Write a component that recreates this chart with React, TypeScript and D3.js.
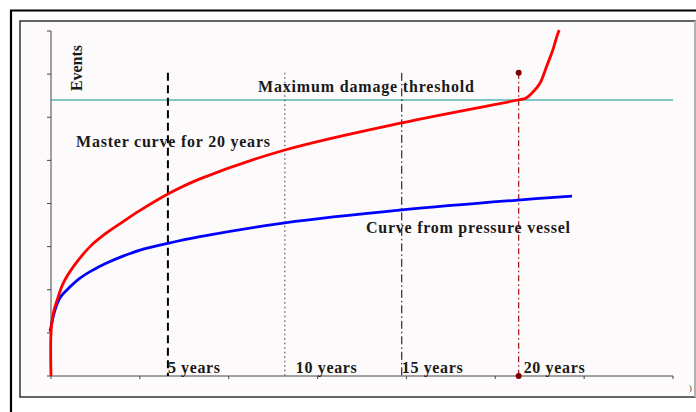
import React from 'react';
import * as d3 from 'd3';

// readings in (years, events) units
const masterCurve: [number, number][] = [
  [0, 0], [0, 1.0], [0.1, 1.46], [0.31, 1.84], [0.53, 2.16], [0.95, 2.53],
  [1.67, 3.0], [2.38, 3.32], [3.08, 3.58], [3.81, 3.84], [5, 4.22], [6.37, 4.57],
  [10, 5.24], [15, 5.87], [19.97, 6.4], [20.3, 6.44], [20.57, 6.56], [20.91, 6.79],
  [21.19, 7.17], [21.46, 7.56], [21.68, 7.95], [21.74, 8.02],
];
const vesselCurve: [number, number][] = [
  [-0.04, 1.03], [0.17, 1.53], [0.38, 1.81], [0.67, 1.99], [1.24, 2.27],
  [1.8, 2.46], [2.38, 2.62], [3.08, 2.78], [3.81, 2.92], [4.95, 3.07],
  [6.37, 3.23], [10, 3.55], [15, 3.85], [19.97, 4.08], [22.28, 4.17],
];
const xTicks = [0, 3.8, 7.6, 11.4, 15.2, 19.0, 22.8, 26.6];
const yTicks = [0, 1, 2, 3, 4, 5, 6, 7, 8];
const yearMarks = [5, 10, 15, 20];
const yearLabels = ['5 years', '10 years', '15 years', '20 years'];
const threshold = 6.4;
const markTop = 7.03;

const markStyle = [
  { stroke: '#000', width: 2, dash: '8,4.5', dx: 0, len: 52 },
  { stroke: '#555', width: 1.2, dash: '1.5,3', dx: 11, len: 61 },
  { stroke: '#000', width: 1, dash: '8,3,1.5,3', dx: 0, len: 61 },
  { stroke: '#a01010', width: 1.2, dash: '6,3,1.5,3', dx: 5, len: 61 },
];

export default function App() {
  const x = d3.scaleLinear().domain([0, 26.6]).range([51, 673]);
  const y = d3.scaleLinear().domain([0, 8]).range([376, 31]);
  const line = d3.line<[number, number]>()
    .x(d => x(d[0]))
    .y(d => y(d[1]))
    .curve(d3.curveCatmullRom.alpha(0.5));

  const font = { fontFamily: '"Liberation Serif", "Times New Roman", serif', fontWeight: 'bold' as const, fontSize: 16, fill: '#1a1a1a' };

  return (
    <svg width={696} height={412} style={{ position: 'absolute', left: 0, top: 0, background: '#fff' }}>
      {/* outer frame lines */}
      <line x1={10} y1={10.5} x2={696} y2={10.5} stroke="#000" strokeWidth={2.2} />
      <line x1={11} y1={10} x2={11} y2={412} stroke="#000" strokeWidth={2.2} />
      {/* plot panel */}
      <rect x={20} y={21} width={675} height={376} fill="#fdfafb" stroke="#333" strokeWidth={1.5} />
      <line x1={695} y1={21} x2={695} y2={397} stroke="#ccc" strokeWidth={1.5} />

      {/* axes */}
      <line x1={x(0)} y1={y(0)} x2={x(26.6)} y2={y(0)} stroke="#444" strokeWidth={1} />
      <line x1={x(0)} y1={y(0)} x2={x(0)} y2={y(8)} stroke="#444" strokeWidth={1} />
      {yTicks.map(t => (
        <line key={'y' + t} x1={x(0) - 4} x2={x(0)} y1={y(t)} y2={y(t)} stroke="#444" strokeWidth={1} />
      ))}
      {xTicks.map(t => (
        <line key={'x' + t} x1={x(t)} x2={x(t)} y1={y(0)} y2={y(0) + 3} stroke="#444" strokeWidth={1} />
      ))}

      {/* threshold */}
      <line x1={x(0)} x2={x(26.6)} y1={y(threshold)} y2={y(threshold)} stroke="#0b9090" strokeWidth={1.2} />

      {/* year markers */}
      {yearMarks.map((v, i) => (
        <g key={'m' + v}>
          <line x1={x(v)} x2={x(v)} y1={y(markTop)} y2={y(0)} stroke={markStyle[i].stroke}
            strokeWidth={markStyle[i].width} strokeDasharray={markStyle[i].dash} />
          <text x={x(v) + markStyle[i].dx} y={373} {...font} textLength={markStyle[i].len} lengthAdjust="spacing">
            {yearLabels[i]}
          </text>
        </g>
      ))}
      <circle cx={x(20)} cy={y(markTop)} r={3} fill="#800000" />
      <circle cx={x(20)} cy={y(0)} r={3} fill="#800000" />

      {/* curves */}
      <path d={line(vesselCurve) || ''} fill="none" stroke="#0000ff" strokeWidth={2.8} />
      <path d={line(masterCurve) || ''} fill="none" stroke="#ff0000" strokeWidth={2.8} />

      {/* annotations */}
      <text x={258} y={92} {...font} textLength={216} lengthAdjust="spacing">Maximum damage threshold</text>
      <text x={76} y={147} {...font} textLength={194} lengthAdjust="spacing">Master curve for 20 years</text>
      <text x={366} y={233} {...font} textLength={204} lengthAdjust="spacing">Curve from pressure vessel</text>
      <text transform="translate(82,91) rotate(-90)" {...font} textLength={46} lengthAdjust="spacing">Events</text>
      <text x={689} y={391} fontFamily="serif" fontSize={8} fill="#333">)</text>
    </svg>
  );
}
